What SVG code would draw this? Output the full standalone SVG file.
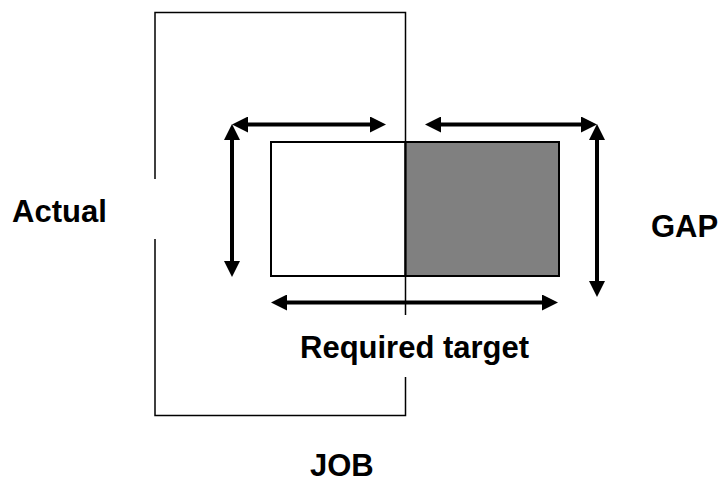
<svg xmlns="http://www.w3.org/2000/svg" width="718" height="479" viewBox="0 0 718 479">
<style>
.frame{fill:none;stroke:#000;stroke-width:1.5}
.box{stroke:#000;stroke-width:2}
.arr{stroke:#000;stroke-width:4;fill:none;marker-start:url(#ah);marker-end:url(#ah)}
.lbl{font-family:"Liberation Sans",Arial,sans-serif;font-weight:bold;font-size:31px;fill:#000}
</style>
<defs>
<marker id="ah" markerUnits="userSpaceOnUse" markerWidth="16" markerHeight="16" refX="6" refY="8" orient="auto-start-reverse" viewBox="0 0 16 16">
<path d="M0,0 L16,8 L0,16 z" fill="#000"/>
</marker>
</defs>
<rect width="718" height="479" fill="#fff"/>
<g id="target">
<rect class="box" x="271" y="142" width="134.5" height="134" fill="#fff"/>
<rect class="box" x="405.5" y="142" width="153.5" height="134" fill="#808080"/>
</g>
<g id="job">
<path class="frame" d="M155,179 V12.5 H405.5 V315 M155,239 V415.5 H405.5 V377"/>
</g>
<g id="connectors">
<line class="arr" x1="242" y1="124.5" x2="376" y2="124.5"/>
<line class="arr" x1="232" y1="134" x2="232" y2="267"/>
<line class="arr" x1="435" y1="124.5" x2="587" y2="124.5"/>
<line class="arr" x1="597" y1="134" x2="597" y2="287"/>
<line class="arr" x1="281" y1="302.5" x2="548" y2="302.5"/>
</g>
<g id="labels">
<text class="lbl" x="12" y="221.5">Actual</text>
<text class="lbl" x="651" y="237">GAP</text>
<text class="lbl" x="300" y="357.5">Required target</text>
<text class="lbl" x="310" y="476">JOB</text>
</g>
</svg>
